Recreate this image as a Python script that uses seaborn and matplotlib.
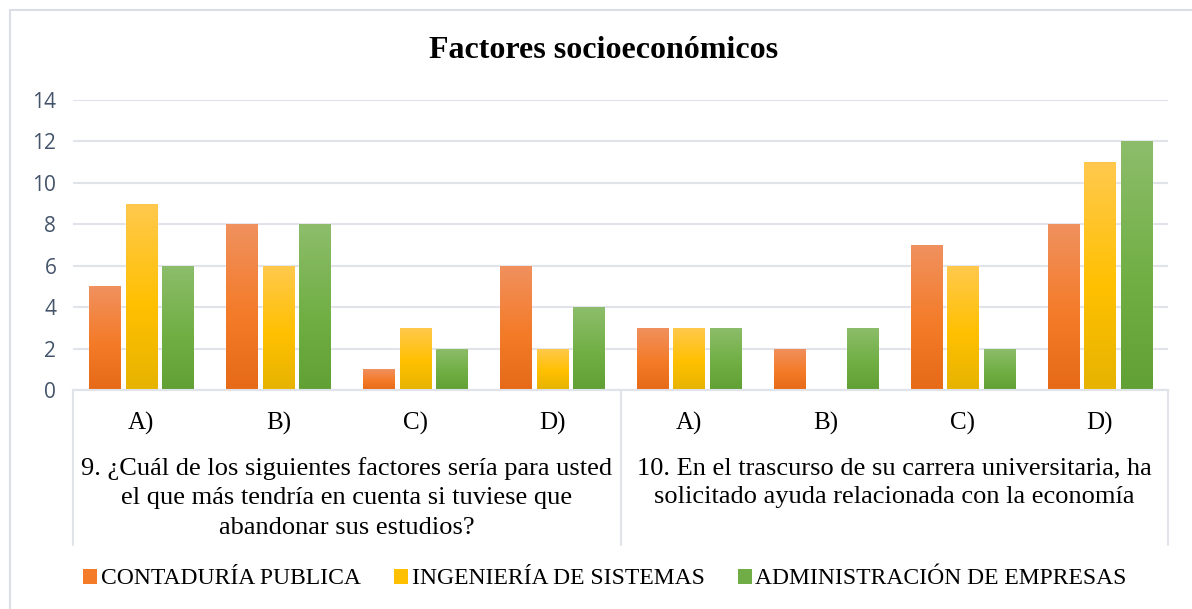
import matplotlib
matplotlib.use("Agg")
import matplotlib.pyplot as plt
import seaborn as sns
import numpy as np
import pandas as pd
from matplotlib.colors import LinearSegmentedColormap
from matplotlib.patches import Patch
from matplotlib.lines import Line2D

# ---- data ----
questions = [
    "9. ¿Cuál de los siguientes factores sería para usted\nel que más tendría en cuenta si tuviese que\nabandonar sus estudios?",
    "10. En el trascurso de su carrera universitaria, ha\nsolicitado ayuda relacionada con la economía",
]
options = ["A)", "B)", "C)", "D)"]
series = ["CONTADURÍA PUBLICA", "INGENIERÍA DE SISTEMAS", "ADMINISTRACIÓN DE EMPRESAS"]
contaduria = [5, 8, 1, 6, 3, 2, 7, 8]
ingenieria = [9, 6, 3, 2, 3, 0, 6, 11]
administracion = [6, 8, 2, 4, 3, 3, 2, 12]
title = "Factores socioeconómicos"

W, H = 1192, 609
sns.set_style("white")
fig = plt.figure(figsize=(W / 100, H / 100), dpi=100)

serif = ["Liberation Serif", "DejaVu Serif"]
sans = ["Open Sans", "DejaVu Sans"]

x0, x1, yb, yt = 73, 1168, 390, 100
ax = fig.add_axes([x0 / W, 1 - yb / H, (x1 - x0) / W, (yb - yt) / H])

cat_ids = [f"{q}|{o}" for q in range(len(questions)) for o in options]
df = pd.DataFrame({
    "cat": cat_ids * 3,
    "serie": np.repeat(series, len(cat_ids)),
    "valor": contaduria + ingenieria + administracion,
})

mid_cols = ["#F47B28", "#FFC000", "#70AD47"]
grads = [
    ["#F0915F", "#F47B28", "#E66A18"],
    ["#FFC94E", "#FFC000", "#E6B300"],
    ["#8DBD6B", "#71AF45", "#61A034"],
]

sns.barplot(data=df, x="cat", y="valor", hue="serie", order=cat_ids,
            hue_order=series, palette=mid_cols, width=0.8, gap=0.15,
            ax=ax, legend=False, saturation=1)

# gradient fill for bars
n = len(cat_ids)
for i, p in enumerate(ax.patches):
    s = i // n
    h = p.get_height()
    if h <= 0:
        continue
    cmap = LinearSegmentedColormap.from_list("g", [(0, grads[s][2]), (0.45, grads[s][1]), (1, grads[s][0])])
    grad = np.linspace(0, 1, 256).reshape(-1, 1)
    bx, by, bw = p.get_x(), p.get_y(), p.get_width()
    im = ax.imshow(grad, cmap=cmap, origin="lower", aspect="auto",
                   extent=[bx, bx + bw, by, by + h], zorder=p.get_zorder() + 0.1)
    im.set_clip_path(p)

ax.set_xlim(-0.5, n - 0.5)
ax.set_ylim(0, 14)
ax.set_yticks(range(0, 15, 2))
ax.set_xlabel("")
ax.set_ylabel("")
ax.set_xticks(range(n))
ax.set_xticklabels(options * len(questions), fontfamily=serif, fontsize=18, color="#000000")
ax.tick_params(axis="x", length=0, pad=16)
ax.tick_params(axis="y", length=0, pad=12, labelcolor="#44546A", labelsize=15)
for t in ax.get_yticklabels():
    t.set_fontfamily(sans)
ax.grid(axis="y", color="#E0E3EA", linewidth=1.5)
ax.set_axisbelow(True)
for side in ["top", "right", "left"]:
    ax.spines[side].set_visible(False)
ax.spines["bottom"].set_color("#E0E3EA")
ax.spines["bottom"].set_linewidth(1.5)

ph = yb - yt
def ay(py):
    return (yb - py) / ph

trans = ax.get_xaxis_transform()
for xv in [-0.5, 3.5, 7.5]:
    ax.add_line(Line2D([xv, xv], [0, ay(545)], transform=trans, color="#E0E3EA",
                       linewidth=1.5, clip_on=False))

for qi, q in enumerate(questions):
    ax.text(qi * 4 + 1.5, ay(457), q, transform=trans, ha="center", va="top",
            fontfamily=serif, fontsize=19, linespacing=1.43, multialignment="center",
            color="#000000")

fig.text(604 / W, 1 - 50 / H, title, ha="center", va="center", fontfamily=serif,
         fontsize=23, fontweight="bold", color="#000000")

handles = [Patch(facecolor=c, edgecolor="none") for c in mid_cols]
leg = fig.legend(handles, series, loc="center", bbox_to_anchor=(605 / W, 1 - 579 / H),
                 ncol=3, frameon=False, prop={"family": serif, "size": 17},
                 handlelength=0.6, handleheight=0.6, handletextpad=0.15, columnspacing=1.4)
for t in leg.get_texts():
    t.set_color("#000000")

# outer frame
fig.add_artist(Line2D([10 / W, 10 / W], [0, 1 - 10 / H], color="#DADFE7", linewidth=1.5))
fig.add_artist(Line2D([10 / W, 1], [1 - 10 / H, 1 - 10 / H], color="#DADFE7", linewidth=1.5))

fig.savefig("out.png", dpi=100)
